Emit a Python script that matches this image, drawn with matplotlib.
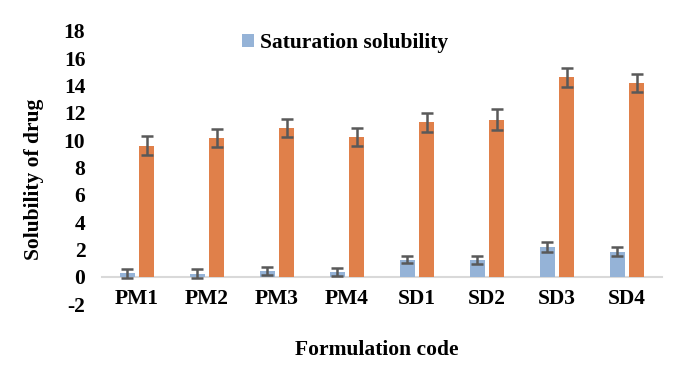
import numpy as np
import matplotlib
matplotlib.use("Agg")
import matplotlib.pyplot as plt

# data
codes = ["PM1", "PM2", "PM3", "PM4", "SD1", "SD2", "SD3", "SD4"]
sat_sol = [0.24, 0.22, 0.44, 0.37, 1.24, 1.24, 2.19, 1.83]
sat_err = [0.30, 0.32, 0.28, 0.30, 0.27, 0.30, 0.38, 0.32]
other_sol = [9.6, 10.15, 10.9, 10.25, 11.3, 11.5, 14.6, 14.2]
other_err = [0.68, 0.68, 0.68, 0.68, 0.68, 0.75, 0.68, 0.68]
yticks = [-2, 0, 2, 4, 6, 8, 10, 12, 14, 16, 18]

plt.rcParams['font.family'] = ['Liberation Serif', 'DejaVu Serif']
plt.rcParams['font.weight'] = 'bold'
plt.rcParams['axes.unicode_minus'] = False
fs = 15.5

fig = plt.figure(figsize=(6.79, 3.82), dpi=100)
ax = fig.add_axes([102 / 679, 1 - 304 / 382, 560 / 679, 273 / 382])

x = np.arange(len(codes))
w = 0.214
off = 0.136
err_kw = dict(ecolor='#595959', elinewidth=1.8, capsize=4, capthick=1.8)
b1 = ax.bar(x - off, sat_sol, w, color='#95B3D7', yerr=sat_err,
            error_kw=err_kw, label='Saturation solubility', zorder=2)
ax.bar(x + off, other_sol, w, color='#E0804A', yerr=other_err,
       error_kw=err_kw, zorder=2)

ax.set_xlim(-0.5, len(codes) - 0.5)
ax.set_ylim(-2, 18)
ax.set_yticks(yticks)
ax.set_xticks(x)
ax.set_xticklabels(codes)

for s in ['top', 'right', 'left']:
    ax.spines[s].set_visible(False)
ax.spines['bottom'].set_position(('data', 0))
ax.spines['bottom'].set_color('#D9D9D9')
ax.spines['bottom'].set_linewidth(1.5)
ax.spines['bottom'].set_zorder(1)
ax.tick_params(axis='both', length=0, labelsize=fs)
ax.tick_params(axis='x', pad=9)
ax.tick_params(axis='y', pad=12)

fig.text(0.050, 0.53, 'Solubility of drug', rotation=90, ha='center',
         va='center', fontsize=fs, fontweight='bold')
fig.text(0.555, 0.085, 'Formulation code', ha='center', va='center',
         fontsize=fs, fontweight='bold')

ax.legend(handles=[b1], loc='center left', bbox_to_anchor=(231 / 679, 1 - 43 / 382),
          bbox_transform=fig.transFigure, frameon=False, fontsize=fs,
          handlelength=0.55, handleheight=0.55, handletextpad=0.3, borderpad=0)

fig.savefig('out.png', dpi=100)
